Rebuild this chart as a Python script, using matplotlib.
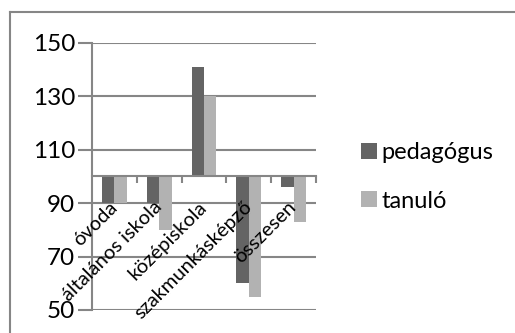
import matplotlib
matplotlib.use("Agg")
import matplotlib.pyplot as plt
from matplotlib.patches import Patch
from matplotlib.lines import Line2D
import numpy as np

categories = ["óvoda", "általános iskola", "középiskola", "szakmunkásképző", "összesen"]
pedagogus = [90, 90, 141, 60, 96]
tanulo = [90, 80, 130, 55, 83]
series_names = ["pedagógus", "tanuló"]
yticks = [50, 70, 90, 110, 130, 150]

base = 100
dark = "#646464"
light = "#b2b2b2"
grid_c = "#868686"

plt.rcParams["font.family"] = ["Lato", "DejaVu Sans"]

fig = plt.figure(figsize=(5.15, 3.33), dpi=100)
ax = fig.add_axes([92 / 515, 1 - 310 / 333, 224 / 515, (310 - 42.7) / 333])

x = np.arange(len(categories))
w = 0.275
ax.bar(x - w / 2, np.array(pedagogus) - base, w, bottom=base, color=dark, zorder=3)
ax.bar(x + w / 2, np.array(tanulo) - base, w, bottom=base, color=light, zorder=3)

ax.set_xlim(-0.5, len(categories) - 0.5)
ax.set_ylim(50, 150)
ax.set_yticks(yticks)
ax.yaxis.grid(True, color=grid_c, linewidth=1.5, zorder=0)
ax.tick_params(axis="y", length=10, width=1.5, color=grid_c, pad=2, labelsize=17.5)

# category axis crosses at 100
for s in ["top", "right"]:
    ax.spines[s].set_visible(False)
ax.spines["left"].set_color(grid_c)
ax.spines["left"].set_linewidth(1.5)
ax.spines["bottom"].set_position(("data", base))
ax.spines["bottom"].set_color(grid_c)
ax.spines["bottom"].set_linewidth(1.5)
ax.spines["bottom"].set_zorder(4)

ax.set_xticks(x)
ax.set_xticklabels([])
ax.set_xticks(np.arange(len(categories)) + 0.5, minor=True)
ax.tick_params(axis="x", which="major", length=0)
ax.tick_params(axis="x", which="minor", length=5, width=1.5, color=grid_c)

# category labels sit on top of the bars
for i, name in enumerate(categories):
    ax.annotate(name, xy=(i, base), xytext=(0, -28), textcoords="offset pixels",
                ha="right", va="center", rotation=45, rotation_mode="anchor",
                fontsize=14.5, zorder=6)

handles = [Patch(facecolor=dark), Patch(facecolor=light)]
fig.legend(handles, series_names, loc="center left",
           bbox_to_anchor=(340 / 515, 1 - 177 / 333), frameon=False,
           fontsize=17, handlelength=0.65, handleheight=0.65,
           handletextpad=0.2, labelspacing=1.15)

# chart area border
fig.add_artist(Line2D([10 / 515, 10 / 515], [0, 1 - 12 / 333],
                      color=grid_c, linewidth=1.5, transform=fig.transFigure))
fig.add_artist(Line2D([10 / 515, 1], [1 - 12 / 333, 1 - 12 / 333],
                      color=grid_c, linewidth=1.5, transform=fig.transFigure))

fig.savefig("out.png", dpi=100)
